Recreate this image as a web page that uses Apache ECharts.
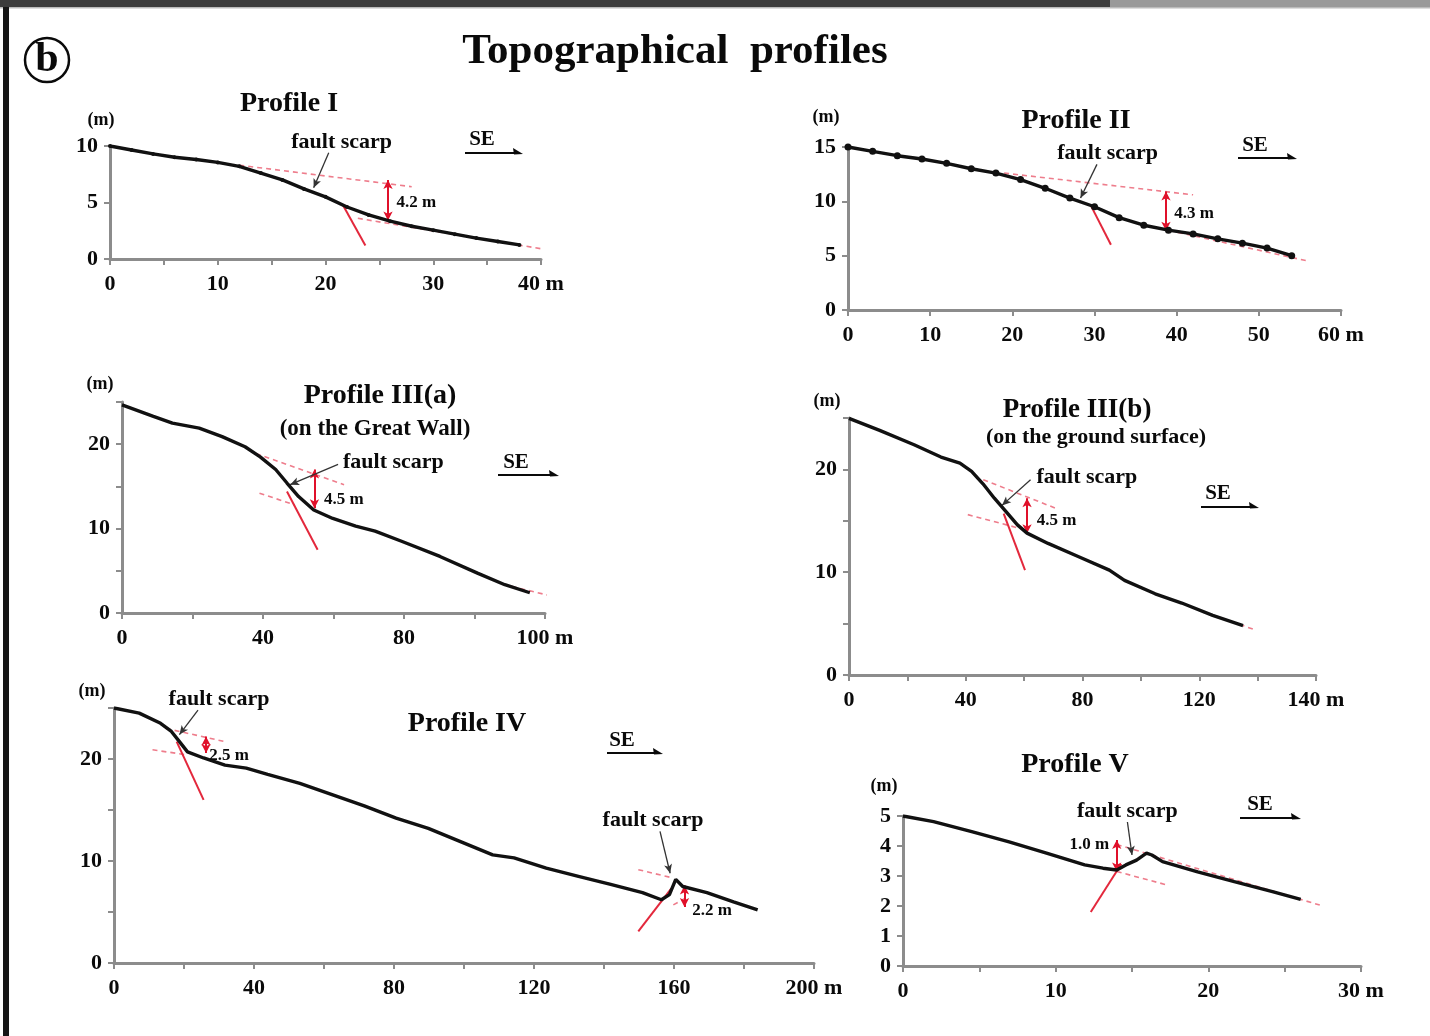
<!DOCTYPE html>
<html><head><meta charset="utf-8">
<script src="https://cdn.jsdelivr.net/npm/echarts@6/dist/echarts.min.js"></script>
<style>html,body{margin:0;padding:0;background:#fff}#c{width:1430px;height:1036px}</style>
</head><body><div id="c"></div>
<script>
// ---------- DATA ----------
// Profile I
const p1Dist = [0,2,4,6,8,10,12,14,16,18,20,22,24,26,28,30,32,34,36,38];
const p1Elev = [10,9.65,9.3,9.0,8.8,8.55,8.2,7.6,7.0,6.2,5.5,4.6,3.9,3.35,2.9,2.55,2.2,1.85,1.55,1.25];
// Profile II
const p2Dist = [0,3,6,9,12,15,18,21,24,27,30,33,36,39,42,45,48,51,54];
const p2Elev = [15,14.6,14.2,13.9,13.5,13.0,12.6,12.0,11.2,10.3,9.5,8.5,7.8,7.35,7.0,6.55,6.15,5.7,5.0];
// Profile III(a)
const p3aDist = [0,8.9,14.3,21.9,28.4,34.9,39.2,43.6,46.8,50.1,54.4,59.8,66.3,71.8,79.3,90.2,101,108.6,115.7];
const p3aElev = [24.65,23.3,22.5,21.9,20.9,19.7,18.5,17.0,15.4,13.8,12.2,11.2,10.3,9.7,8.5,6.7,4.7,3.35,2.4];
// Profile III(b)
const p3bDist = [0,10.5,22.3,31.5,38,42,45.9,49.8,53.8,57.7,61,68.2,78.7,89.2,94.4,104.9,114,124.6,135];
const p3bElev = [24.96,23.8,22.4,21.2,20.6,19.8,18.6,17.2,15.9,14.6,13.8,12.8,11.5,10.2,9.2,7.9,7.0,5.8,4.8];
// Profile IV
const p4Dist = [0,7.2,13.3,16.4,18.7,21,25.6,31.7,37.8,43.9,53.1,62.3,71.5,80.6,89.8,99,108.2,114.3,123.5,132.7,141.9,151,156.4,158.7,160.5,162.5,169.4,177,183.9];
const p4Elev = [25,24.5,23.5,22.7,21.7,20.7,20.1,19.4,19.1,18.5,17.6,16.5,15.4,14.2,13.2,11.9,10.6,10.3,9.3,8.5,7.7,6.9,6.2,6.7,8.2,7.5,6.9,6.0,5.2];
// Profile V
const p5Dist = [0,2,4.5,6.95,9.4,11.9,13.1,14,14.6,15.3,15.95,16.3,17,19.3,21.7,24.2,26.05];
const p5Elev = [5.0,4.81,4.48,4.14,3.76,3.37,3.26,3.2,3.37,3.53,3.76,3.7,3.48,3.14,2.81,2.48,2.22];

// Axis ticks / labels
const p1XTickVals = [0,10,20,30,40],         p1XTickText = ['0','10','20','30','40 m'];
const p2XTickVals = [0,10,20,30,40,50,60],   p2XTickText = ['0','10','20','30','40','50','60 m'];
const p3aXTickVals = [0,40,80,120],          p3aXTickText = ['0','40','80','100 m'];
const p3bXTickVals = [0,40,80,120,160],      p3bXTickText = ['0','40','80','120','140 m'];
const p4XTickVals = [0,40,80,120,160,200],   p4XTickText = ['0','40','80','120','160','200 m'];
const p5XTickVals = [0,10,20,30],            p5XTickText = ['0','10','20','30 m'];
const p1YTickVals = [0,5,10];
const p2YTickVals = [0,5,10,15];
const p3aYTickVals = [0,10,20];
const p3bYTickVals = [0,10,20];
const p4YTickVals = [0,10,20];
const p5YTickVals = [0,1,2,3,4,5];

// Fault-scarp annotations (distance, elevation)
const p1Upper = [[12,8.3],[28,6.4]],   p1Lower = [[23,3.6],[41,0.75]],  p1Fault = [[21.6,4.8],[23.7,1.2]];
const p1Offset = [[25.8,7.0],[25.8,3.4]], p1Leader = [[20.3,9.4],[18.9,6.3]];
const p2Upper = [[19,12.6],[42,10.6]], p2Lower = [[38,7.5],[56,4.5]],   p2Fault = [[29.5,9.7],[32,6.0]];
const p2Offset = [[38.7,10.9],[38.7,7.3]], p2Leader = [[30.3,13.4],[28.3,10.3]];
const p3aUpper = [[38,18.9],[63,15.2]], p3aLower = [[39,14.2],[49,12.8]], p3aLower2 = [[108,3.4],[121,2.1]], p3aFault = [[46.8,14.4],[55.5,7.5]];
const p3aOffset = [[54.6,17.0],[54.6,12.4]], p3aLeader = [[61.3,17.6],[47.7,15.2]];
const p3bUpper = [[46,19.0],[71,16.2]], p3bLower = [[40.7,15.6],[58,14.3]], p3bLower2 = [[128,5.5],[139,4.4]], p3bFault = [[53,15.7],[60.3,10.2]];
const p3bOffset = [[61,17.2],[61,13.8]], p3bLeader = [[62.2,19.0],[52.4,16.5]];
const p4Upper = [[14.8,23.0],[31.7,21.7]], p4Lower = [[11,20.9],[21,20.4]], p4Fault = [[17.9,21.7],[25.6,16]];
const p4Offset = [[26.3,22.2],[26.3,20.6]], p4Leader = [[24,24.8],[18.7,22.4]];
const p4Upper2 = [[149.8,9.15],[159.8,8.33]], p4Lower2 = [[159.8,5.7],[163,6.3]], p4Fault2 = [[149.8,3.1],[159.2,7.3]];
const p4Offset2 = [[163,7.6],[163,5.5]], p4Leader2 = [[156,12.9],[158.9,8.8]];
const p5Upper = [[14,4.05],[27.3,2.03]], p5Lower = [[14,3.15],[17.3,2.7]], p5Fault = [[12.3,1.8],[14.3,3.4]];
const p5Offset = [[14,4.2],[14,3.15]], p5Leader = [[14.7,4.8],[15,3.7]];

// Annotation texts: [grid, distance, elevation, text, align, size]
const noteTexts = [
  [0,21.5,10.3,'fault scarp','center',22],[0,26.6,5.0,'4.2 m','left',17],
  [1,31.6,14.4,'fault scarp','center',22],[1,39.7,8.9,'4.3 m','left',17],
  [2,77,17.9,'fault scarp','center',22],[2,57.3,13.4,'4.5 m','left',17],
  [3,81.5,19.2,'fault scarp','center',22],[3,64.3,15.0,'4.5 m','left',17],
  [4,30,25.9,'fault scarp','center',22],[4,27.2,20.3,'2.5 m','left',17],
  [4,154,14.0,'fault scarp','center',22],[4,165.2,5.1,'2.2 m','left',17],
  [5,14.7,5.15,'fault scarp','center',22],[5,13.5,4.03,'1.0 m','right',17]
];

// ---------- LAYOUT / STYLE ----------
const SERIF = '"Liberation Serif","DejaVu Serif",serif';
const INK = '#0a0a0a';
const layout = [
  {left:110, top:146, width:431, height:113, xmax:40,  xint:5,  ymax:10, yint:5},
  {left:848, top:147, width:493, height:163, xmax:60,  xint:10, ymax:15, yint:5},
  {left:122, top:402, width:423, height:211, xmax:120, xint:20, ymax:25, yint:5},
  {left:849, top:418, width:467, height:257, xmax:160, xint:20, ymax:25, yint:5},
  {left:114, top:708, width:700, height:255, xmax:200, xint:20, ymax:25, yint:5},
  {left:903, top:816, width:458, height:150, xmax:30,  xint:5,  ymax:5,  yint:1}
];
const xTicks = [[p1XTickVals,p1XTickText],[p2XTickVals,p2XTickText],[p3aXTickVals,p3aXTickText],[p3bXTickVals,p3bXTickText],[p4XTickVals,p4XTickText],[p5XTickVals,p5XTickText]];
const yTicks = [p1YTickVals,p2YTickVals,p3aYTickVals,p3bYTickVals,p4YTickVals,p5YTickVals];

const AXIS = '#8c8c8c';
const grids = [], xAxes = [], yAxes = [];
layout.forEach((g,i)=>{
  grids.push({left:g.left, top:g.top, width:g.width, height:g.height});
  xAxes.push({type:'value', gridIndex:i, min:0, max:g.xmax, interval:g.xint,
    axisLine:{onZero:false, lineStyle:{color:AXIS,width:3}},
    axisTick:{show:true, length:6, lineStyle:{color:AXIS,width:2}},
    splitLine:{show:false},
    axisLabel:{margin:14, color:INK, fontFamily:SERIF, fontWeight:'bold', fontSize:22,
      formatter:v=>{const k=xTicks[i][0].indexOf(v);return k<0?'':xTicks[i][1][k];}}});
  yAxes.push({type:'value', gridIndex:i, min:0, max:g.ymax, interval:g.yint,
    axisLine:{onZero:false, lineStyle:{color:AXIS,width:3}},
    axisTick:{show:true, length:6, lineStyle:{color:AXIS,width:2}},
    splitLine:{show:false},
    axisLabel:{margin:12, color:INK, fontFamily:SERIF, fontWeight:'bold', fontSize:22,
      formatter:v=>yTicks[i].indexOf(v)<0?'':String(v)}});
});

const zip = (a,b)=>a.map((v,k)=>[v,b[k]]);
const series = [];
function profile(gi, xs, ys, sym){
  series.push({type:'line', xAxisIndex:gi, yAxisIndex:gi, data:zip(xs,ys), z:5,
    symbol:'circle', showSymbol:!!sym, symbolSize:sym||0, itemStyle:{color:'#111'},
    lineStyle:{color:'#111', width:3.4}, silent:true, animation:false});
}
function seg(gi, pts, kind){
  const st = kind==='dash' ? {color:'#ee7d8c', width:1.6, type:[5,4]} : {color:'#e3283c', width:2};
  series.push({type:'line', xAxisIndex:gi, yAxisIndex:gi, data:pts, symbol:'none', z: kind==='dash'?3:4,
    lineStyle:st, silent:true, animation:false, clip:false});
}
function arrow(gi, pts, kind){
  const red = kind==='offset';
  series.push({type:'line', xAxisIndex:gi, yAxisIndex:gi, data:pts, symbol:'none', z:6,
    lineStyle:{opacity:0}, silent:true, animation:false, clip:false,
    markLine:{silent:true, animation:false, precision:3,
      symbol: red?['arrow','arrow']:['none','arrow'], symbolSize: red?[7,9]:[6,9],
      label:{show:false}, emphasis:{disabled:true},
      lineStyle:{color: red?'#e0102a':'#333', width: red?2:1.3, type:'solid'},
      data:[[{coord:pts[0]},{coord:pts[1]}]]}});
}

// Profile I
seg(0,p1Upper,'dash'); seg(0,p1Lower,'dash'); seg(0,p1Fault,'solid');
profile(0,p1Dist,p1Elev,4);
arrow(0,p1Offset,'offset'); arrow(0,p1Leader,'leader');
// Profile II
seg(1,p2Upper,'dash'); seg(1,p2Lower,'dash'); seg(1,p2Fault,'solid');
profile(1,p2Dist,p2Elev,7);
arrow(1,p2Offset,'offset'); arrow(1,p2Leader,'leader');
// Profile III(a)
seg(2,p3aUpper,'dash'); seg(2,p3aLower,'dash'); seg(2,p3aLower2,'dash'); seg(2,p3aFault,'solid');
profile(2,p3aDist,p3aElev,0);
arrow(2,p3aOffset,'offset'); arrow(2,p3aLeader,'leader');
// Profile III(b)
seg(3,p3bUpper,'dash'); seg(3,p3bLower,'dash'); seg(3,p3bLower2,'dash'); seg(3,p3bFault,'solid');
profile(3,p3bDist,p3bElev,0);
arrow(3,p3bOffset,'offset'); arrow(3,p3bLeader,'leader');
// Profile IV
seg(4,p4Upper,'dash'); seg(4,p4Lower,'dash'); seg(4,p4Fault,'solid');
seg(4,p4Upper2,'dash'); seg(4,p4Lower2,'dash'); seg(4,p4Fault2,'solid');
profile(4,p4Dist,p4Elev,0);
arrow(4,p4Offset,'offset'); arrow(4,p4Leader,'leader');
arrow(4,p4Offset2,'offset'); arrow(4,p4Leader2,'leader');
// Profile V
seg(5,p5Upper,'dash'); seg(5,p5Lower,'dash'); seg(5,p5Fault,'solid');
profile(5,p5Dist,p5Elev,0);
arrow(5,p5Offset,'offset'); arrow(5,p5Leader,'leader');

// ---------- DECORATION (titles, SE arrows, frame) ----------
const G = [];
function T(x,y,text,size,align){G.push({type:'text', x, y, z:10, silent:true,
  style:{text, fill:INK, fontFamily:SERIF, fontWeight:'bold', fontSize:size, align:align||'center', verticalAlign:'middle'}});}
T(675,52,'Topographical  profiles',43);
T(289,104,'Profile I',28); T(1076,121,'Profile II',28);
T(380,396,'Profile III(a)',28); T(375,429,'(on the Great Wall)',23);
T(1077,410,'Profile III(b)',27); T(1096,437,'(on the ground surface)',22);
T(467,724,'Profile IV',28); T(1075,765,'Profile V',28);
T(101,120,'(m)',18); T(826,117,'(m)',18); T(100,384,'(m)',18);
T(827,401,'(m)',18); T(92,691,'(m)',18); T(884,786,'(m)',18);
const seArrows = [[482,140,465,522,153],[1255,146,1238,1296,158],[516,463,498,558,475],[1218,494,1201,1258,507],[622,741,607,662,753],[1260,805,1240,1300,818]];
seArrows.forEach(s=>{
  T(s[0],s[1],'SE',21);
  G.push({type:'line', silent:true, shape:{x1:s[2],y1:s[4],x2:s[3]-4,y2:s[4]}, style:{stroke:INK, lineWidth:2}});
  G.push({type:'polygon', silent:true, shape:{points:[[s[3]+1,s[4]+1],[s[3]-9,s[4]-5],[s[3]-8,s[4]+1.5]]}, style:{fill:INK}});
});
// circled (b)
G.push({type:'circle', silent:true, shape:{cx:47,cy:60,r:22}, style:{fill:'none', stroke:INK, lineWidth:2.5}});
T(47,60,'b',42);
// frame
G.push({type:'rect', silent:true, shape:{x:0,y:0,width:1110,height:7}, style:{fill:'#3c3c3c'}});
G.push({type:'rect', silent:true, shape:{x:1110,y:0,width:320,height:7}, style:{fill:'#9a9a9a'}});
G.push({type:'rect', silent:true, shape:{x:0,y:7,width:1430,height:1.5}, style:{fill:'#bbbbbb'}});
G.push({type:'rect', silent:true, shape:{x:3,y:7,width:6,height:1029}, style:{fill:'#161616'}});

const chart = echarts.init(document.getElementById('c'), null, {renderer:'canvas'});
chart.setOption({backgroundColor:'#ffffff', animation:false, grid:grids, xAxis:xAxes, yAxis:yAxes, series});
// annotation texts placed through each grid's own scales
noteTexts.forEach(n=>{
  const p = chart.convertToPixel({gridIndex:n[0]}, [n[1],n[2]]);
  T(p[0],p[1],n[3],n[5],n[4]);
});
chart.setOption({graphic:G});
</script></body></html>
